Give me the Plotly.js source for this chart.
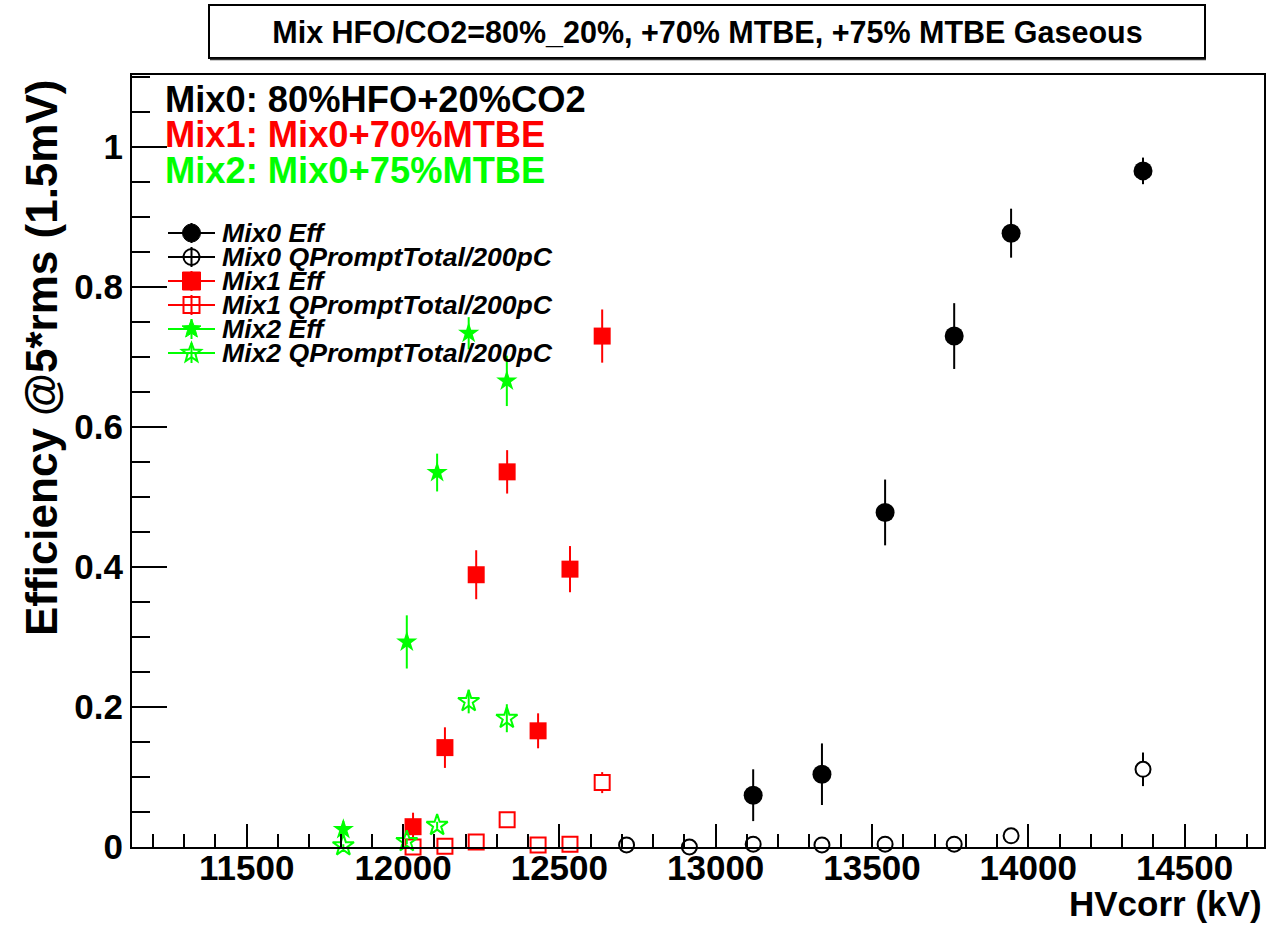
<!DOCTYPE html>
<html>
<head>
<meta charset="utf-8">
<script src="https://cdn.plot.ly/plotly-3.0.1.min.js"></script>
<style>
  html, body { margin: 0; padding: 0; background: #ffffff; }
  #chart { width: 1268px; height: 925px; }
</style>
</head>
<body>
<div id="chart"></div>
<script>
// ---------------- data ----------------
const mix0HV      = [13120, 13340, 13542, 13763, 13945, 14367];
const mix0Eff     = [0.074, 0.104, 0.478, 0.730, 0.877, 0.966];
const mix0EffErr  = [0.037, 0.044, 0.047, 0.047, 0.035, 0.019];

const mix0QHV     = [12715, 12916, 13120, 13340, 13542, 13763, 13945, 14367];
const mix0Q       = [0.003, 0.000, 0.004, 0.003, 0.004, 0.004, 0.016, 0.111];
const mix0QErr    = [0.003, 0.003, 0.003, 0.003, 0.003, 0.003, 0.006, 0.024];

const mix1HV      = [12032, 12134, 12234, 12333, 12432, 12534, 12637];
const mix1Eff     = [0.029, 0.142, 0.389, 0.536, 0.166, 0.397, 0.730];
const mix1EffErr  = [0.020, 0.029, 0.035, 0.031, 0.025, 0.033, 0.038];
const mix1Q       = [0.000, 0.001, 0.007, 0.039, 0.003, 0.004, 0.092];
const mix1QErr    = [0.002, 0.002, 0.002, 0.004, 0.002, 0.002, 0.015];

const mix2HV      = [11809, 12012, 12109, 12210, 12332];
const mix2Eff     = [0.025, 0.293, 0.535, 0.734, 0.666];
const mix2EffErr  = [0.012, 0.038, 0.027, 0.023, 0.036];
const mix2Q       = [0.002, 0.008, 0.031, 0.208, 0.184];
const mix2QErr    = [0.002, 0.004, 0.005, 0.017, 0.020];

const legendLabels = ["Mix0 Eff", "Mix0 QPromptTotal/200pC", "Mix1 Eff",
                      "Mix1 QPromptTotal/200pC", "Mix2 Eff", "Mix2 QPromptTotal/200pC"];
const mixLabels = ["Mix0: 80%HFO+20%CO2", "Mix1: Mix0+70%MTBE", "Mix2: Mix0+75%MTBE"];
const titleText = "Mix HFO/CO2=80%_20%, +70% MTBE, +75% MTBE Gaseous";
const xTitle = "HVcorr (kV)";
const yTitle = "Efficiency @5*rms (1.5mV)";

// ---------------- styling ----------------
const BLACK = "#000000", RED = "#ff0000", GREEN = "#00ff00";
const FONT = "Liberation Sans, Arial, Helvetica, sans-serif";

// plot-area geometry in pixels
const W = 1268, H = 925;
const M = { l: 132, r: 4, t: 75, b: 78 };
const PW = W - M.l - M.r, PH = H - M.t - M.b;
const px2x = px => (px - M.l) / PW;
const py2y = py => (H - M.b - py) / PH;

function errY(arr, color) {
  return { type: "data", array: arr, visible: true, width: 0, thickness: 2, color: color };
}

const traces = [
  { x: mix0HV, y: mix0Eff, error_y: errY(mix0EffErr, BLACK), name: legendLabels[0],
    mode: "markers", marker: { symbol: "circle", size: 19, color: BLACK } },
  { x: mix0QHV, y: mix0Q, error_y: errY(mix0QErr, BLACK), name: legendLabels[1],
    mode: "markers", marker: { symbol: "circle", size: 15, color: "#ffffff", line: { color: BLACK, width: 2 } } },
  { x: mix1HV, y: mix1Eff, error_y: errY(mix1EffErr, RED), name: legendLabels[2],
    mode: "markers", marker: { symbol: "square", size: 17, color: RED } },
  { x: mix1HV, y: mix1Q, error_y: errY(mix1QErr, RED), name: legendLabels[3],
    mode: "markers", marker: { symbol: "square", size: 15, color: "#ffffff", line: { color: RED, width: 2 } } },
  { x: mix2HV, y: mix2Eff, error_y: errY(mix2EffErr, GREEN), name: legendLabels[4],
    mode: "markers", marker: { symbol: "star", size: 16, color: GREEN, line: { width: 0 } } },
  { x: mix2HV, y: mix2Q, error_y: errY(mix2QErr, GREEN), name: legendLabels[5],
    mode: "markers", marker: { symbol: "star-open", size: 16, color: GREEN, line: { width: 2, color: GREEN } } }
].map(t => Object.assign(t, { type: "scatter", showlegend: false, cliponaxis: false, hoverinfo: "skip" }));

// ---------------- hand-drawn ROOT-style legend ----------------
function starPath(R, r) {
  let p = "";
  for (let i = 0; i < 10; i++) {
    const a = Math.PI / 2 + i * Math.PI / 5;
    const rad = (i % 2 === 0) ? R : r;
    const x = (rad * Math.cos(a)).toFixed(2), y = (rad * Math.sin(a)).toFixed(2);
    p += (i === 0 ? "M" : "L") + x + "," + y;
  }
  return p + "Z";
}

const shapes = [];
const annotations = [];
const legX0 = px2x(168), legX1 = px2x(215), legXc = px2x(191.5);
const legendColors = [BLACK, BLACK, RED, RED, GREEN, GREEN];
legendLabels.forEach((lab, i) => {
  const yy = py2y(233 + 24 * i);
  const c = legendColors[i];
  shapes.push({ type: "line", xref: "paper", yref: "paper", x0: legX0, x1: legX1, y0: yy, y1: yy,
                line: { color: c, width: 2 } });
  shapes.push({ type: "line", xref: "paper", yref: "paper", xsizemode: "scaled", ysizemode: "pixel",
                x0: legXc, x1: legXc, yanchor: yy, y0: -10, y1: 10, line: { color: c, width: 2 } });
  const base = { xref: "paper", yref: "paper", xsizemode: "pixel", ysizemode: "pixel",
                 xanchor: legXc, yanchor: yy };
  if (i === 0) shapes.push(Object.assign({ type: "circle", x0: -9, x1: 9, y0: -9, y1: 9,
                 fillcolor: c, line: { color: c, width: 1 } }, base));
  if (i === 1) shapes.push(Object.assign({ type: "circle", x0: -8, x1: 8, y0: -8, y1: 8,
                 fillcolor: "rgba(0,0,0,0)", line: { color: c, width: 2 } }, base));
  if (i === 2) shapes.push(Object.assign({ type: "rect", x0: -9, x1: 9, y0: -9, y1: 9,
                 fillcolor: c, line: { color: c, width: 1 } }, base));
  if (i === 3) shapes.push(Object.assign({ type: "rect", x0: -8, x1: 8, y0: -8, y1: 8,
                 fillcolor: "rgba(0,0,0,0)", line: { color: c, width: 2 } }, base));
  if (i === 4) shapes.push(Object.assign({ type: "path", path: starPath(10, 4.2),
                 fillcolor: c, line: { color: c, width: 1 } }, base));
  if (i === 5) shapes.push(Object.assign({ type: "path", path: starPath(10, 4.2),
                 fillcolor: "rgba(0,0,0,0)", line: { color: c, width: 2 } }, base));
  annotations.push({ xref: "paper", yref: "paper", x: px2x(220), y: yy, xanchor: "left", yanchor: "middle",
                     text: lab, showarrow: false,
                     font: { family: FONT, size: 26.6, color: BLACK, weight: "bold", style: "italic" } });
});

// mix description texts
const mixColors = [BLACK, RED, GREEN];
const mixY = [99, 134, 170];
mixLabels.forEach((lab, i) => {
  annotations.push({ xref: "paper", yref: "paper", x: px2x(163), y: py2y(mixY[i]), xanchor: "left", yanchor: "middle",
                     text: lab, showarrow: false,
                     font: { family: FONT, size: 36.3, color: mixColors[i], weight: "bold" } });
});

// axis titles (ROOT-style placement)
annotations.push({ xref: "paper", yref: "paper", x: px2x(1264), y: py2y(903), xanchor: "right", yanchor: "middle",
                   text: xTitle, showarrow: false, font: { family: FONT, size: 35, color: BLACK, weight: "bold" } });
annotations.push({ xref: "paper", yref: "paper", x: px2x(41), y: py2y(358), xanchor: "center", yanchor: "middle",
                   text: yTitle, textangle: -90, showarrow: false,
                   font: { family: FONT, size: 44, color: BLACK, weight: "bold" } });

// title box
shapes.push({ type: "rect", xref: "paper", yref: "paper", x0: px2x(209), x1: px2x(1205), y0: py2y(58), y1: py2y(5),
              line: { color: BLACK, width: 2 }, fillcolor: "rgba(0,0,0,0)" });
shapes.push({ type: "line", xref: "paper", yref: "paper", x0: px2x(210), x1: px2x(1206), y0: py2y(59.5), y1: py2y(59.5),
              line: { color: "#333333", width: 1.5 } });

const axisCommon = {
  showgrid: false, zeroline: false, showline: true, mirror: true, linecolor: BLACK, linewidth: 2,
  ticks: "inside", tickcolor: BLACK, tickwidth: 2,
  tickfont: { family: FONT, size: 35, color: BLACK, weight: "bold" }
};

const layout = {
  width: W, height: H,
  margin: M,
  paper_bgcolor: "#ffffff", plot_bgcolor: "#ffffff",
  showlegend: false,
  title: { text: titleText, xref: "container", yref: "container", x: 707.5 / W, y: 1 - 32 / H,
           xanchor: "center", yanchor: "middle",
           font: { family: FONT, size: 30.5, color: BLACK, weight: "bold" } },
  xaxis: Object.assign({}, axisCommon, {
    range: [11133, 14754], tickmode: "linear", tick0: 0, dtick: 500, tickformat: "d", ticklen: 23,
    ticklabelstandoff: -11,
    minor: { dtick: 100, ticks: "inside", ticklen: 13, tickwidth: 2, tickcolor: BLACK, showgrid: false }
  }),
  yaxis: Object.assign({}, axisCommon, {
    range: [0, 1.103], tickmode: "linear", tick0: 0, dtick: 0.2, ticklen: 35,
    minor: { dtick: 0.05, ticks: "inside", ticklen: 18, tickwidth: 2, tickcolor: BLACK, showgrid: false }
  }),
  shapes: shapes,
  annotations: annotations
};

Plotly.newPlot("chart", traces, layout, { displayModeBar: false, staticPlot: true });
</script>
</body>
</html>
